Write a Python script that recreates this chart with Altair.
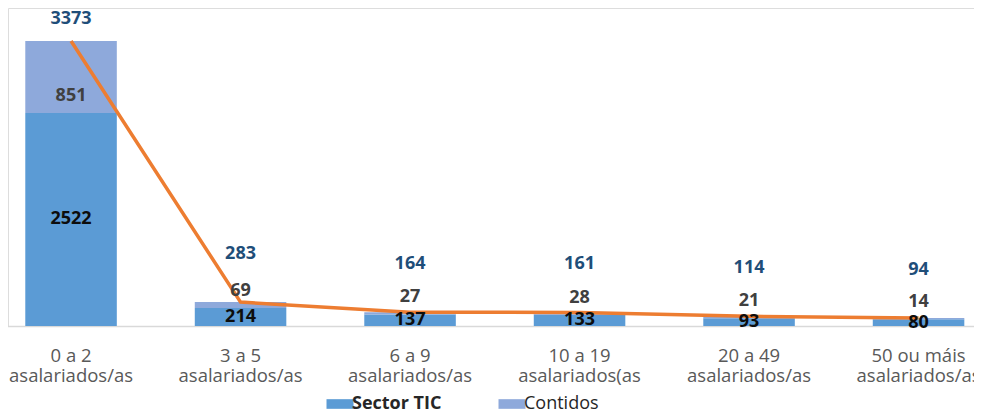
import altair as alt
import pandas as pd

categories = ["0 a 2\nasalariados/as", "3 a 5\nasalariados/as", "6 a 9\nasalariados/as",
              "10 a 19\nasalariados(as", "20 a 49\nasalariados/as", "50 ou máis\nasalariados/as"]
sector_tic = [2522, 214, 137, 133, 93, 80]
contidos = [851, 69, 27, 28, 21, 14]
totals = [3373, 283, 164, 161, 114, 94]
series = ["Sector TIC", "Contidos"]
colors = ["#5B9BD5", "#8EA9DB"]

rows = []
for c, a, b in zip(categories, sector_tic, contidos):
    rows.append({"cat": c, "serie": series[0], "value": a, "ord": 0})
    rows.append({"cat": c, "serie": series[1], "value": b, "ord": 1})
long_df = pd.DataFrame(rows)
wide_df = pd.DataFrame({"cat": categories, "tic": sector_tic, "cont": contidos, "total": totals})

FONT = "Open Sans"
NUM = 18
x = alt.X("cat:N", sort=categories, title=None,
          scale=alt.Scale(range=[-21.7, 995.3], paddingInner=0.46, paddingOuter=0.23),
          axis=alt.Axis(labelExpr="split(datum.label, '\\n')", labelAngle=0, ticks=False,
                        domainColor="#D9D9D9", domainWidth=1.5, labelColor="#595959",
                        labelFontSize=18.5, labelFont=FONT, labelPadding=20, labelLineHeight=20))
yscale = alt.Scale(domain=[0, 3764])

bars = alt.Chart(long_df).mark_bar().encode(
    x=x,
    y=alt.Y("value:Q", stack="zero", scale=yscale, axis=None),
    color=alt.Color("serie:N", scale=alt.Scale(domain=series, range=colors),
                    legend=alt.Legend(title=None, orient="none", direction="horizontal",
                                      legendX=322, legendY=386,
                                      symbolType="M-1.4,-0.5H1.4V0.5H-1.4Z", symbolSize=372,
                                      symbolStrokeWidth=0, labelOffset=2, columnPadding=56,
                                      labelFont=FONT, labelFontSize=18, labelColor="#262626",
                                      labelFontWeight=alt.ExprRef(expr="datum.label == 'Sector TIC' ? 'bold' : 'normal'"))),
    order=alt.Order("ord:Q"),
)

line = alt.Chart(wide_df).mark_line(color="#ED7D31", strokeWidth=3.5).encode(
    x=alt.X("cat:N", sort=categories), y=alt.Y("total:Q", scale=yscale)
)

tic_lbl = alt.Chart(wide_df).mark_text(font=FONT, fontSize=NUM, fontWeight="bold", color="#0d0d0d",
                                       baseline="middle").encode(
    x=alt.X("cat:N", sort=categories), y=alt.Y("mid:Q", scale=yscale), text="tic:Q"
).transform_calculate(mid="datum.tic / 2")

cont_lbl = alt.Chart(wide_df).mark_text(font=FONT, fontSize=NUM, fontWeight="bold", color="#404040",
                                        baseline="middle", dy=-17).encode(
    x=alt.X("cat:N", sort=categories), y=alt.Y("tic:Q", scale=yscale), text="cont:Q"
)

tot_base = alt.Chart(wide_df).encode(
    x=alt.X("cat:N", sort=categories), y=alt.Y("total:Q", scale=yscale), text="total:Q"
)
tot_big = tot_base.mark_text(font=FONT, fontSize=NUM, fontWeight="bold", color="#1F4E79",
                             baseline="middle", dy=-22).transform_filter("datum.total > 1000")
tot_small = tot_base.mark_text(font=FONT, fontSize=NUM, fontWeight="bold", color="#1F4E79",
                               baseline="middle", dy=-48).transform_filter("datum.total <= 1000")

chart = alt.layer(bars, line, tic_lbl, cont_lbl, tot_big, tot_small).properties(
    width=966, height=318, autosize=alt.AutoSizeParams(type="none"),
    padding={"left": 0, "top": 0, "right": 0, "bottom": 86},
).configure_view(stroke=None).configure(font=FONT)

chart.save("out.html", embed_options={"renderer": "svg", "actions": False})
